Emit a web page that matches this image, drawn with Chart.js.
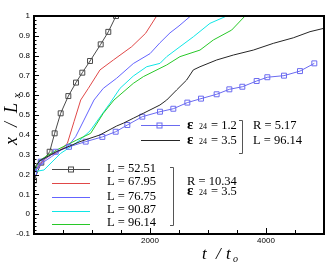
<!DOCTYPE html>
<html>
<head>
<meta charset="utf-8">
<script src="https://cdn.jsdelivr.net/npm/chart.js@4.4.0/dist/chart.umd.min.js"></script>
<style>
    html, body { margin: 0; padding: 0; background: #fff; }
    #grafico { display: block; }
</style>
</head>
<body>
<canvas id="grafico" width="332" height="268"></canvas>
<script>
// eixos
const xMin = 0, xMax = 5000, xMinorStep = 500, xMajorStep = 2000;
const yMin = -0.1, yMax = 1, yStep = 0.1, yMinorStep = 0.02;
const xLabels = [2000, 4000];

// R = 10.34, eps24 = 3.5
const tL5251 = [0, 126, 270, 356, 460, 592, 724, 833, 966, 1150, 1281, 1414];
const xL5251 = [0.17, 0.26, 0.315, 0.408, 0.509, 0.596, 0.664, 0.714, 0.773, 0.857, 0.92, 1.0];

const tL6795 = [0, 100, 200, 300, 391, 477, 575, 690, 805, 937, 1138, 1368, 1684, 1925, 2115];
const xL6795 = [0.21, 0.25, 0.28, 0.30, 0.31, 0.33, 0.357, 0.467, 0.576, 0.635, 0.728, 0.778, 0.845, 0.913, 1.0];

const tL7675 = [0, 150, 300, 448, 603, 718, 862, 1034, 1195, 1425, 1712, 2000, 2172, 2345, 2500, 2700];
const xL7675 = [0.21, 0.26, 0.29, 0.32, 0.349, 0.391, 0.475, 0.576, 0.635, 0.686, 0.76, 0.81, 0.865, 0.915, 0.95, 1.0];

const tL9087 = [0, 17, 172, 460, 632, 793, 966, 1138, 1310, 1483, 1712, 1943, 2172, 2288, 2517, 2747, 3034, 3322];
const xL9087 = [0.21, 0.215, 0.223, 0.307, 0.34, 0.374, 0.42, 0.49, 0.56, 0.635, 0.697, 0.744, 0.761, 0.795, 0.845, 0.895, 0.963, 1.0];

const tL9614 = [0, 103, 391, 735, 977, 1195, 1379, 1712, 1885, 2172, 2288, 2517, 2862, 3092, 3408, 3638];
const xL9614 = [0.215, 0.273, 0.324, 0.374, 0.408, 0.509, 0.576, 0.66, 0.694, 0.736, 0.753, 0.795, 0.828, 0.879, 0.929, 1.0];

// R = 5.17, L = 96.14
const tEps12 = [0, 115, 374, 603, 891, 1178, 1408, 1609, 1867, 2172, 2402, 2644, 2879, 3149, 3368, 3592, 3839, 4023, 4310, 4586, 4833];
const xEps12 = [0.21, 0.265, 0.315, 0.34, 0.366, 0.39, 0.416, 0.45, 0.492, 0.517, 0.532, 0.563, 0.583, 0.605, 0.63, 0.643, 0.672, 0.691, 0.699, 0.722, 0.761];

const tEps35 = [0, 100, 391, 793, 1138, 1425, 1540, 1712, 1885, 2172, 2288, 2460, 2632, 2747, 2862, 3149, 3437, 3781, 4126, 4471, 4759, 5000];
const xEps35 = [0.232, 0.27, 0.316, 0.366, 0.40, 0.445, 0.459, 0.484, 0.509, 0.551, 0.576, 0.627, 0.677, 0.728, 0.744, 0.778, 0.803, 0.828, 0.862, 0.89, 0.921, 0.938];

const corGray = '#4a4a4a';
const corRed = '#e04848';
const corBlue = '#6464ff';
const corCyan = '#10e6e6';
const corGreen = '#28c828';
const corDark = '#262626';
const corBlueSq = '#6a6af0';

function pontos(ts, xs) {
    return ts.map((t, i) => ({ x: t, y: xs[i] }));
}

function serie(ts, xs, cor, marcador) {
    return {
        data: pontos(ts, xs),
        borderColor: cor,
        borderWidth: 1,
        tension: 0,
        pointStyle: 'rect',
        pointRadius: marcador ? 3.5 : 0,
        pointBorderColor: cor,
        pointBackgroundColor: 'rgba(0,0,0,0)',
        pointBorderWidth: 1
    };
}

// texto "eps 24 = valor"
function desenharEps(ctx, x, y, valor) {
    ctx.font = 'bold 15px "Liberation Serif"';
    ctx.fillText('\u03b5', x, y);
    ctx.font = '8px "Liberation Serif"';
    ctx.fillText('24', x + 12, y);
    ctx.font = '12.5px "Liberation Serif"';
    ctx.fillText('= ' + valor, x + 24, y);
}

function desenharColchete(ctx, x, y1, y2) {
    ctx.beginPath();
    ctx.moveTo(x - 3, y1 + 0.5);
    ctx.lineTo(x + 0.5, y1 + 0.5);
    ctx.lineTo(x + 0.5, y2 + 0.5);
    ctx.lineTo(x - 3, y2 + 0.5);
    ctx.stroke();
}

function desenharQuadrado(ctx, x, y, cor) {
    ctx.strokeStyle = cor;
    ctx.strokeRect(x - 2.5, y - 2.5, 5, 5);
}

const moldura = {
    id: 'moldura',
    afterDatasetsDraw(chart) {
        const { ctx, chartArea: a, scales: { x, y } } = chart;
        ctx.save();
        ctx.strokeStyle = '#000';
        ctx.lineWidth = 1;
        ctx.beginPath();
        // ticks para dentro
        for (let v = xMin; v <= xMax; v += xMinorStep) {
            const px = Math.round(x.getPixelForValue(v)) + 0.5;
            const len = v % xMajorStep === 0 ? 6 : 4;
            ctx.moveTo(px, a.bottom);
            ctx.lineTo(px, a.bottom - len);
        }
        const n = Math.round((yMax - yMin) / yMinorStep);
        for (let i = 0; i <= n; i++) {
            const v = yMin + i * yMinorStep;
            const py = Math.round(y.getPixelForValue(v)) + 0.5;
            const len = i % 5 === 0 ? 5 : 2.5;
            ctx.moveTo(a.left, py);
            ctx.lineTo(a.left + len, py);
        }
        ctx.stroke();
        ctx.lineWidth = 2;
        ctx.strokeRect(a.left, a.top, a.right - a.left, a.bottom - a.top);
        ctx.restore();
    },
    afterDraw(chart) {
        const ctx = chart.ctx;
        ctx.save();
        ctx.fillStyle = '#000';
        ctx.textBaseline = 'alphabetic';
        ctx.textAlign = 'left';

        // titulo eixo x: t / t0
        ctx.font = 'italic 17px "Liberation Serif"';
        ctx.fillText('t', 202, 259);
        ctx.fillText('/', 216, 259);
        ctx.fillText('t', 226, 259);
        ctx.font = 'italic 10px "Liberation Serif"';
        ctx.fillText('o', 233, 262);

        // titulo eixo y: x / Lx
        ctx.save();
        ctx.translate(17, 0);
        ctx.rotate(-Math.PI / 2);
        ctx.font = 'italic 18px "Liberation Serif"';
        ctx.fillText('x', -145, 0);
        ctx.fillText('/', -127, 0);
        ctx.fillText('L', -113, 0);
        ctx.font = 'italic 11px "Liberation Serif"';
        ctx.fillText('x', -98, 3);
        ctx.restore();

        // legenda de cima
        ctx.lineWidth = 1;
        ctx.strokeStyle = corBlueSq;
        ctx.beginPath();
        ctx.moveTo(141, 125.5);
        ctx.lineTo(180, 125.5);
        ctx.stroke();
        desenharQuadrado(ctx, 159.5, 125.5, corBlueSq);
        ctx.strokeStyle = corDark;
        ctx.beginPath();
        ctx.moveTo(141, 140.5);
        ctx.lineTo(180, 140.5);
        ctx.stroke();
        desenharEps(ctx, 187, 129, '1.2');
        desenharEps(ctx, 187, 144, '3.5');
        ctx.strokeStyle = '#555';
        desenharColchete(ctx, 242, 120, 153);
        ctx.font = '12.5px "Liberation Serif"';
        ctx.fillText('R = 5.17', 253, 129);
        ctx.fillText('L = 96.14', 253, 144);

        // legenda de baixo
        const linhas = [
            { cor: corGray, y: 169.5, txt: 'L = 52.51', base: 172, sq: true },
            { cor: corRed, y: 183.5, txt: 'L = 67.95', base: 185 },
            { cor: corBlue, y: 197.5, txt: 'L = 76.75', base: 200 },
            { cor: corCyan, y: 211.5, txt: 'L = 90.87', base: 213 },
            { cor: corGreen, y: 224.5, txt: 'L = 96.14', base: 226 }
        ];
        for (let l of linhas) {
            ctx.strokeStyle = l.cor;
            ctx.beginPath();
            ctx.moveTo(52, l.y);
            ctx.lineTo(90, l.y);
            ctx.stroke();
            if (l.sq) desenharQuadrado(ctx, 71, l.y, l.cor);
            ctx.font = '12.5px "Liberation Serif"';
            ctx.fillText(l.txt, 107, l.base);
        }
        ctx.strokeStyle = '#555';
        desenharColchete(ctx, 173, 167, 225);
        ctx.font = '12.5px "Liberation Serif"';
        ctx.fillText('R = 10.34', 187, 185);
        desenharEps(ctx, 187, 195, '3.5');
        ctx.restore();
    }
};

const ctx = document.getElementById('grafico').getContext('2d');
const grafico = new Chart(ctx, {
    type: 'line',
    data: {
        datasets: [
            serie(tEps35, xEps35, corDark, false),
            serie(tEps12, xEps12, corBlueSq, true),
            serie(tL9614, xL9614, corGreen, false),
            serie(tL9087, xL9087, corCyan, false),
            serie(tL7675, xL7675, corBlue, false),
            serie(tL6795, xL6795, corRed, false),
            serie(tL5251, xL5251, corGray, true)
        ]
    },
    options: {
        responsive: false,
        animation: false,
        layout: { padding: { top: 16, right: 8, left: 0, bottom: 0 } },
        plugins: {
            legend: { display: false },
            tooltip: { enabled: false }
        },
        scales: {
            x: {
                type: 'linear',
                min: xMin,
                max: xMax,
                afterFit: (s) => { s.height = 34; },
                border: { display: false },
                grid: { display: false, drawTicks: false },
                ticks: {
                    stepSize: xMinorStep,
                    autoSkip: false,
                    maxRotation: 0,
                    padding: 2,
                    color: '#000',
                    font: { family: '"Liberation Sans"', size: 8 },
                    callback: (v) => xLabels.includes(v) ? String(v) : ''
                }
            },
            y: {
                type: 'linear',
                min: yMin,
                max: yMax,
                afterFit: (s) => { s.width = 34; },
                border: { display: false },
                grid: { display: false, drawTicks: false },
                ticks: {
                    stepSize: yStep,
                    autoSkip: false,
                    padding: 4,
                    color: '#000',
                    font: { family: '"Liberation Sans"', size: 8 },
                    callback: (v) => String(Math.round(v * 10) / 10)
                }
            }
        }
    },
    plugins: [moldura]
});
</script>
</body>
</html>
